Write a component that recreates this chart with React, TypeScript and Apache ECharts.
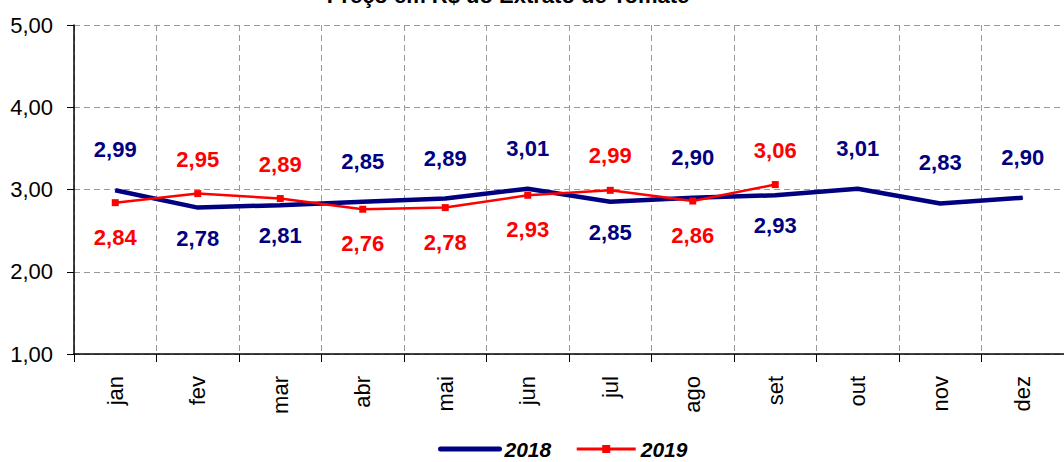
import React, { useEffect, useRef } from "react";
import * as echarts from "echarts";

const months = ["jan", "fev", "mar", "abr", "mai", "jun", "jul", "ago", "set", "out", "nov", "dez"];
const values2018 = [2.99, 2.78, 2.81, 2.85, 2.89, 3.01, 2.85, 2.90, 2.93, 3.01, 2.83, 2.90];
const values2019 = [2.84, 2.95, 2.89, 2.76, 2.78, 2.93, 2.99, 2.86, 3.06];
const labelPos2018 = ["top", "bottom", "bottom", "top", "top", "top", "bottom", "top", "bottom", "top", "top", "top"];
const labelPos2019 = ["bottom", "top", "top", "bottom", "bottom", "bottom", "top", "bottom", "top"];
const yTicks = [1, 2, 3, 4, 5];
const titleText = "Preço em R$ do Extrato de Tomate";

const fmt = (v: number) => v.toFixed(2).replace(".", ",");

export default function App() {
  const ref = useRef<HTMLDivElement>(null);
  useEffect(() => {
    if (!ref.current) return;
    const chart = echarts.init(ref.current, null, { renderer: "svg" });
    const font = "'Liberation Sans', Arial, sans-serif";
    const mk = (vals: number[], pos: string[], color: string, upDist: number, downDist: number) =>
      vals.map((v, i) => ({
        value: v,
        label: {
          show: true,
          position: pos[i],
          distance: pos[i] === "top" ? upDist : downDist,
          formatter: fmt(v),
          color,
          fontWeight: "bold",
          fontSize: 22,
          fontFamily: font,
        },
      }));
    chart.setOption({
      animation: false,
      title: {
        text: titleText,
        left: 508,
        textAlign: "center",
        top: -16,
        padding: 0,
        textStyle: { fontSize: 22, fontWeight: "bold", color: "#000", fontFamily: font },
      },
      legend: {
        top: 438,
        left: 438,
        padding: 0,
        itemWidth: 59,
        itemHeight: 10,
        itemGap: 24,
        textStyle: { fontSize: 21, lineHeight: 22, fontWeight: "bold", fontStyle: "italic", color: "#000", fontFamily: font },
        data: [
          { name: "2018", itemStyle: { opacity: 0 }, lineStyle: { width: 5, color: "#000080", cap: "round" } },
          { name: "2019", lineStyle: { width: 3, color: "#ff0000" } },
        ],
      },
      grid: { left: 74, right: 0, top: 25, bottom: 108, containLabel: false },
      xAxis: {
        type: "category",
        data: months,
        boundaryGap: true,
        axisLine: { lineStyle: { color: "#000", width: 1.5 } },
        axisTick: { show: true, length: 8, lineStyle: { color: "#000" } },
        axisLabel: { rotate: 90, fontSize: 22, color: "#000", fontFamily: font, margin: 22 },
        splitLine: { show: true, lineStyle: { type: [6, 4], color: "#999", width: 1 } },
      },
      yAxis: {
        type: "value",
        min: yTicks[0],
        max: yTicks[yTicks.length - 1],
        interval: 1,
        axisLine: { show: true, lineStyle: { color: "#000", width: 1.5 } },
        axisTick: { show: true, length: 7, lineStyle: { color: "#000" } },
        axisLabel: { formatter: (v: number) => fmt(v), fontSize: 22, color: "#000", fontFamily: font, margin: 21 },
        splitLine: { show: true, lineStyle: { type: [6, 4], color: "#999", width: 1 } },
      },
      series: [
        {
          name: "2018",
          type: "line",
          data: mk(values2018, labelPos2018, "#000080", 29, 19),
          symbol: "circle",
          symbolSize: 1,
          lineStyle: { color: "#000080", width: 4.5 },
          itemStyle: { color: "#000080" },
          z: 2,
        },
        {
          name: "2019",
          type: "line",
          data: mk(values2019, labelPos2019, "#ff0000", 20, 20),
          symbol: "rect",
          symbolSize: 7,
          lineStyle: { color: "#ff0000", width: 2.5 },
          itemStyle: { color: "#ff0000" },
          z: 3,
        },
      ],
    });
    return () => chart.dispose();
  }, []);
  return <div ref={ref} style={{ position: "fixed", left: 0, top: 0, width: 1064, height: 462, background: "#fff" }} />;
}
